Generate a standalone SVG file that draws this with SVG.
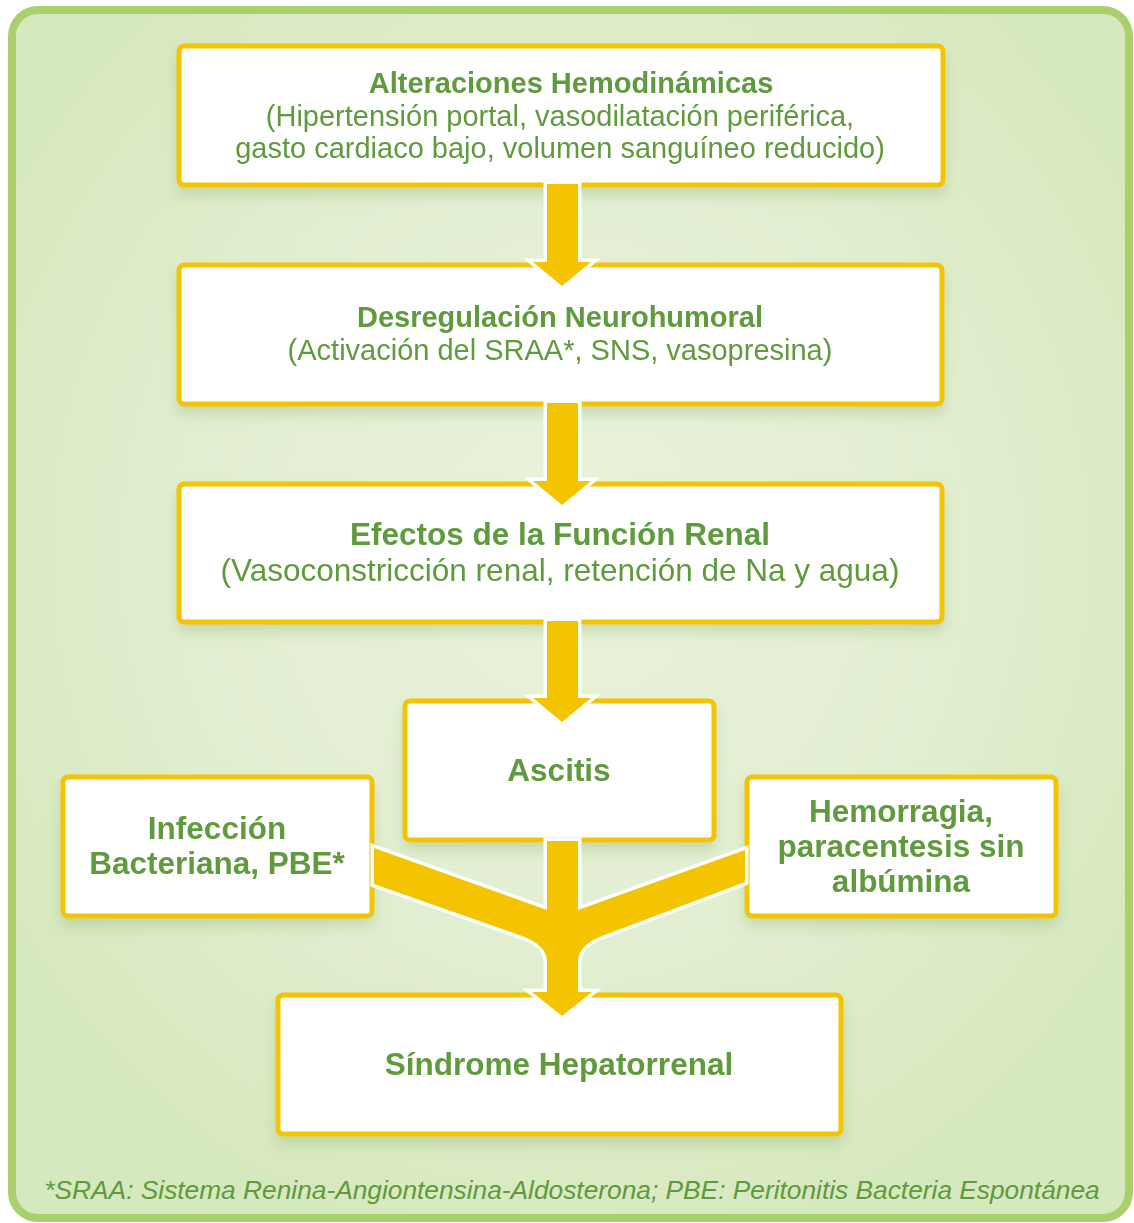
<svg xmlns="http://www.w3.org/2000/svg" width="1134" height="1223" viewBox="0 0 1134 1223">
<defs>
<radialGradient id="bg" cx="0.5" cy="0.45" r="0.6">
<stop offset="0" stop-color="#eaf3dc"/>
<stop offset="0.6" stop-color="#e2eed0"/>
<stop offset="1" stop-color="#d6e8bd"/>
</radialGradient>
<filter id="sh" x="-10%" y="-10%" width="120%" height="130%">
<feDropShadow dx="0" dy="8" stdDeviation="7" flood-color="#7fa85a" flood-opacity="0.3"/>
</filter>
</defs>
<style>
.box{fill:#ffffff;stroke:#f5c400;stroke-width:5}
.t{font-family:"Liberation Sans",Arial,sans-serif;fill:#5f9a3c;text-anchor:middle}
.b{font-weight:bold}
.arr{fill:#f5c400;stroke:#ffffff;stroke-width:7;stroke-linejoin:miter;paint-order:stroke}
</style>
<rect x="12" y="10" width="1117" height="1208" rx="26" fill="url(#bg)" stroke="#a9d06c" stroke-width="8"/>
<g id="n1" filter="url(#sh)">
<rect class="box" x="179" y="46" width="764" height="139" rx="5"/>
<text class="t b" x="571" y="93" font-size="29">Alteraciones Hemodinámicas</text>
<text class="t" x="560" y="126" font-size="29">(Hipertensión portal, vasodilatación periférica,</text>
<text class="t" x="560" y="158" font-size="29">gasto cardiaco bajo, volumen sanguíneo reducido)</text>
</g>
<g id="n2" filter="url(#sh)">
<rect class="box" x="179" y="265" width="763" height="139" rx="5"/>
<text class="t b" x="560" y="327" font-size="29">Desregulación Neurohumoral</text>
<text class="t" x="560" y="360" font-size="29">(Activación del SRAA*, SNS, vasopresina)</text>
</g>
<g id="n3" filter="url(#sh)">
<rect class="box" x="179" y="484" width="763" height="138" rx="5"/>
<text class="t b" x="560" y="545" font-size="31.5">Efectos de la Función Renal</text>
<text class="t" x="560" y="581" font-size="31.5">(Vasoconstricción renal, retención de Na y agua)</text>
</g>
<g id="n4" filter="url(#sh)">
<rect class="box" x="405" y="701" width="309" height="139" rx="5"/>
<text class="t b" x="559" y="781" font-size="31.5">Ascitis</text>
</g>
<g id="n5" filter="url(#sh)">
<rect class="box" x="63" y="777" width="309" height="139" rx="5"/>
<text class="t b" x="217" y="839" font-size="31.5">Infección</text>
<text class="t b" x="217" y="874" font-size="31.5">Bacteriana, PBE*</text>
</g>
<g id="n6" filter="url(#sh)">
<rect class="box" x="747" y="777" width="309" height="139" rx="5"/>
<text class="t b" x="901" y="822" font-size="31.5">Hemorragia,</text>
<text class="t b" x="901" y="857" font-size="31.5">paracentesis sin</text>
<text class="t b" x="901" y="892" font-size="31.5">albúmina</text>
</g>
<g id="n7" filter="url(#sh)">
<rect class="box" x="278" y="995" width="563" height="139" rx="5"/>
<text class="t b" x="559" y="1075" font-size="31.5">Síndrome Hepatorrenal</text>
</g>
<g id="connectors">
<path class="arr" d="M547,184 L547,262 L533,262 L562,286 L591,262 L578,262 L578,184 Z"/>
<path class="arr" d="M547,403 L547,481 L533,481 L562,505 L591,481 L578,481 L578,403 Z"/>
<path class="arr" d="M547,621 L547,698 L533,698 L562,722 L591,698 L578,698 L578,621 Z"/>
<path class="arr" d="M547,841 L547,910 L374,848 L374,884 L522,936 Q547,945 547,962 L547,992 L532,992 L562,1016 L592,992 L578,992 L578,962 Q578,945 602,936 L745,882 L745,850 L578,910 L578,841 Z"/>
</g>
<text class="t" x="572" y="1199" font-size="26.3" font-style="italic">*SRAA: Sistema Renina-Angiontensina-Aldosterona; PBE: Peritonitis Bacteria Espontánea</text>
</svg>
